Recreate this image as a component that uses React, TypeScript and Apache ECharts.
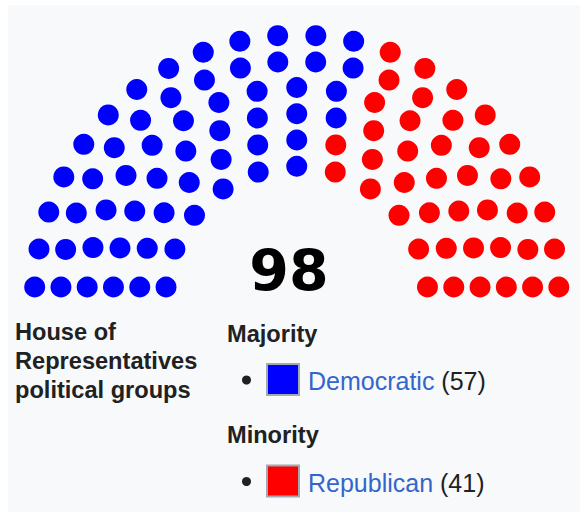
import React, { useEffect, useRef } from 'react';
import * as echarts from 'echarts';

// ---- data ----
const parties = ['Democratic', 'Republican'];
const seats = [57, 41];
const partyColors = ['#0000ff', '#ff0000'];
const groupHeadings = ['Majority', 'Minority'];
const chamberTitle = ['House of', 'Representatives', 'political groups'];

// cumulative row capacity table of the parliament-diagram layout
const rowTotals = [4, 15, 33, 61, 95, 138, 189, 247, 313, 388];

type Seat = { a: number; x: number; y: number };

function seatLayout(total: number): Seat[] {
  const rows = rowTotals.findIndex((t) => t >= total) + 1;
  const radius = 0.4 / rows;
  const pos: Seat[] = [];
  const addRow = (J: number, R: number) => {
    if (J === 1) {
      pos.push({ a: Math.PI / 2, x: 0, y: R });
      return;
    }
    const a0 = Math.sin(radius / R);
    for (let j = 0; j < J; j++) {
      const a = (j * (Math.PI - 2 * a0)) / (J - 1) + a0;
      pos.push({ a, x: -R * Math.cos(a), y: R * Math.sin(a) });
    }
  };
  for (let i = 1; i < rows; i++) {
    const J = Math.floor(
      (total / rowTotals[rows - 1]) * Math.PI / (2 * Math.asin(2 / (3 * rows + 4 * i - 2)))
    );
    const R = (3 * rows + 4 * i - 2) / (4 * rows);
    addRow(J, R);
  }
  const Rlast = (3 * rows + 4 * rows - 2) / (4 * rows);
  addRow(total - pos.length, Rlast);
  pos.sort((p, q) => p.a - q.a);
  return pos;
}

export default function App() {
  const ref = useRef<HTMLDivElement>(null);

  useEffect(() => {
    if (!ref.current) return;
    const chart = echarts.init(ref.current, undefined, { renderer: 'svg' });
    const total = seats.reduce((s, v) => s + v, 0);
    const layout = seatLayout(total);
    let offset = 0;
    const series = parties.map((name, k) => {
      const part = layout.slice(offset, offset + seats[k]);
      offset += seats[k];
      return {
        type: 'scatter',
        name,
        silent: true,
        symbol: 'circle',
        symbolSize: 21,
        itemStyle: { color: partyColors[k], opacity: 1 },
        data: part.map((p) => [p.x, p.y]),
      };
    });

    const boldFont = 'bold 23.6px "Liberation Sans", Arial, sans-serif';
    const regFont = '25px "Liberation Sans", Arial, sans-serif';

    const graphic: any[] = [
      { type: 'rect', shape: { x: 0, y: 0, width: 580, height: 5 }, style: { fill: '#ffffff' }, silent: true },
      { type: 'rect', shape: { x: 0, y: 0, width: 8, height: 512 }, style: { fill: '#ffffff' }, silent: true },
      {
        type: 'text',
        x: 289,
        y: 271,
        style: {
          text: String(total),
          font: 'bold 57px "DejaVu Sans", sans-serif',
          fill: '#000000',
          textAlign: 'center',
          textVerticalAlign: 'middle',
        },
      },
    ];
    chamberTitle.forEach((line, i) => {
      graphic.push({
        type: 'text',
        x: 15,
        y: 331.5 + i * 29.3,
        style: { text: line, font: boldFont, fill: '#202122', textAlign: 'left', textVerticalAlign: 'middle' },
      });
    });
    const groupTop = [0, 101.5];
    parties.forEach((name, k) => {
      const dy = groupTop[k];
      graphic.push({
        type: 'text',
        x: 227,
        y: 333.5 + dy,
        style: { text: groupHeadings[k], font: boldFont, fill: '#202122', textAlign: 'left', textVerticalAlign: 'middle' },
      });
      graphic.push({
        type: 'circle',
        shape: { cx: 246.5, cy: 380 + dy, r: 4.5 },
        style: { fill: '#202122' },
      });
      graphic.push({
        type: 'rect',
        shape: { x: 267, y: 364 + dy, width: 32, height: 31 },
        style: { fill: partyColors[k], stroke: '#a2a9b1', lineWidth: 2 },
      });
      graphic.push({
        type: 'text',
        x: 308,
        y: 381 + dy,
        style: {
          text: `{n|${name}} {c|(${seats[k]})}`,
          font: regFont,
          textAlign: 'left',
          textVerticalAlign: 'middle',
          rich: {
            n: { fill: '#3366cc', font: regFont },
            c: { fill: '#202122', font: regFont },
          },
        },
      });
    });

    chart.setOption({
      animation: false,
      backgroundColor: '#f8f9fa',
      grid: { left: 13.5, top: 14, width: 567, height: 472.5, show: false },
      xAxis: { type: 'value', min: -1.8, max: 1.8, show: false },
      yAxis: { type: 'value', min: -1.2, max: 1.8, show: false },
      tooltip: { show: false },
      series,
      graphic,
    });
    return () => chart.dispose();
  }, []);

  return (
    <div
      ref={ref}
      style={{ position: 'absolute', left: 0, top: 0, width: 580, height: 512 }}
    />
  );
}
